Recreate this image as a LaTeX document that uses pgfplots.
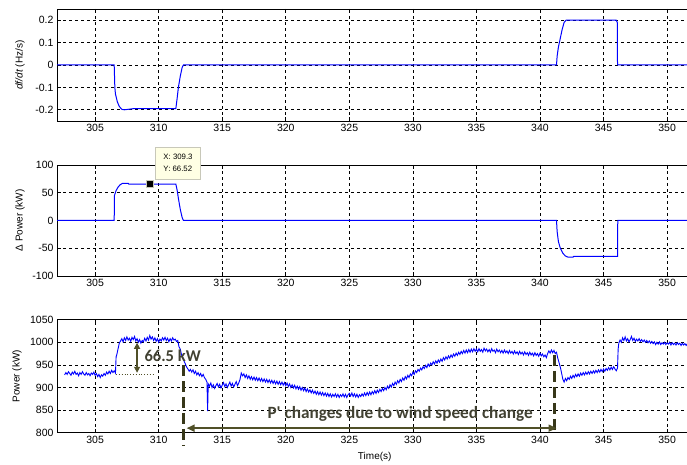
\documentclass[border=0pt]{standalone}
\usepackage{fontspec}
\setmainfont{Liberation Sans}
\newfontfamily\annfont{Carlito}
\usepackage{pgfplots}
\pgfplotsset{compat=1.18}
\usetikzlibrary{arrows.meta}
\definecolor{mblue}{RGB}{0,0,255}
\definecolor{annol}{RGB}{80,80,40}
\definecolor{anndark}{RGB}{55,55,25}
\definecolor{anntext}{RGB}{65,65,50}
\definecolor{tipbg}{RGB}{255,255,228}
\definecolor{tipborder}{RGB}{200,200,185}
\pgfplotsset{
 mstyle/.style={
  scale only axis, width=635.5pt, xmin=302, xmax=352,
  xtick={305,310,...,350},
  grid=major, major grid style={black, dash pattern=on 3pt off 3pt, line width=0.6pt},
  axis line style={line width=0.9pt},
  tick style={black, line width=0.6pt}, tick align=inside, major tick length=4pt,
  ticklabel style={font=\fontsize{10.5}{12}\selectfont},
  /pgf/number format/assume math mode=true,
  /pgf/number format/1000 sep={},
  label style={font=\fontsize{10.5}{12}\selectfont},
  clip=false,
  every axis y label/.style={at={(axis description cs:-0.058,0.5)}, rotate=90, anchor=center},
 }
}
\begin{document}
\begin{tikzpicture}
\useasboundingbox (0,0) rectangle (687pt,465pt);
% top panel
\begin{axis}[mstyle, at={(57pt,344pt)}, anchor=south west, height=112pt,
  ymin=-0.25, ymax=0.25, ytick={-0.2,-0.1,0,0.1,0.2},
  ylabel={\textit{df/dt} (Hz/s)}]
\addplot[mblue, line width=1pt] coordinates {
(302,0) (306.5,0) (306.55,-0.1) (306.6,-0.13) (306.75,-0.165) (306.9,-0.185) (307.1,-0.198) (307.3,-0.2) (308,-0.195) (311.35,-0.195) (311.45,-0.15) (311.55,-0.1) (311.7,-0.05) (311.85,-0.01) (311.95,0) (341.3,0) (341.35,0.04) (341.45,0.08) (341.6,0.12) (341.75,0.16) (341.9,0.19) (342.05,0.2) (346.0,0.2) (346.08,0.19) (346.1,0) (352,0)};
\end{axis}
% middle panel
\begin{axis}[mstyle, at={(57pt,189pt)}, anchor=south west, height=111pt,
  ymin=-100, ymax=100, ytick={-100,-50,...,100},
  ylabel={Δ Power (kW)}]
\addplot[mblue, line width=1pt] coordinates {
(302,0) (306.5,0) (306.52,45) (306.65,54) (306.8,60) (306.95,64) (307.15,67) (307.6,67) (307.65,65.5) (311.35,65.5) (311.45,55) (311.55,40) (311.7,20) (311.85,5) (311.95,0) (341.3,0) (341.35,-20) (341.45,-38) (341.6,-50) (341.8,-59) (342.0,-64) (342.2,-66) (342.6,-66) (342.65,-64.5) (346.1,-64.5) (346.12,0) (352,0)};
\addplot[only marks, mark=square*, mark size=3.5pt, mark options={fill=black, draw=tipborder, line width=0.5pt}] coordinates {(309.3,66.52)};
\node[anchor=south west, draw=tipborder, fill=tipbg, line width=0.8pt, minimum width=45pt, minimum height=32pt, inner sep=2pt, align=left, font=\fontsize{7.8}{12}\selectfont] at (axis cs:309.72,74.2) {X: 309.3\\Y: 66.52};
\end{axis}
% bottom panel
\begin{axis}[mstyle, at={(57pt,32.3pt)}, anchor=south west, height=113pt,
  ymin=800, ymax=1050, ytick={800,850,...,1050},
  ylabel={Power (kW)}, xlabel={Time(s)},
  every axis y label/.style={at={(axis description cs:-0.063,0.5)}, rotate=90, anchor=center},
  every axis x label/.style={at={(axis description cs:0.5,0)}, anchor=center, yshift=-24.5pt}]
\addplot[mblue, line width=0.9pt] coordinates {
(302.6,928) (302.7,933) (302.8,929) (302.9,935) (303.0,931) (303.1,927) (303.2,934) (303.3,930) (303.4,936) (303.5,929)
(303.6,932) (303.7,926) (303.8,933) (303.9,929) (304.0,935) (304.1,930) (304.2,927) (304.3,933) (304.4,928) (304.5,931)
(304.6,926) (304.7,932) (304.8,929) (304.9,934) (305.0,927) (305.1,931) (305.2,924) (305.3,929) (305.4,922) (305.5,928)
(305.6,925) (305.7,931) (305.8,927) (305.9,934) (306.0,930) (306.1,936) (306.2,931) (306.3,938) (306.4,933) (306.5,937)
(306.6,932) (306.65,968) (306.7,972) (306.8,985) (306.9,998) (307.0,1003) (307.1,1008) (307.2,1001) (307.3,1010) (307.4,1004)
(307.5,1012) (307.6,1005) (307.7,1009) (307.8,1002) (307.9,1011) (308.0,1006) (308.1,1013) (308.2,1003) (308.3,1008) (308.4,1000)
(308.5,1006) (308.6,998) (308.7,1004) (308.8,1001) (308.9,1009) (309.0,1003) (309.1,1011) (309.2,1005) (309.3,1015) (309.4,1007)
(309.5,1012) (309.6,1004) (309.7,1010) (309.8,1002) (309.9,1008) (310.0,1000) (310.1,1007) (310.2,1003) (310.3,1010) (310.4,1005)
(310.5,1011) (310.6,1004) (310.7,1009) (310.8,1001) (310.9,1008) (311.0,1003) (311.1,1010) (311.2,1005) (311.3,1007) (311.4,1002)
(311.5,1004) (311.6,990) (311.7,985) (311.8,972) (311.9,966) (312.0,958) (312.1,952) (312.2,945) (312.3,941) (312.4,936)
(312.5,940) (312.6,934) (312.7,939) (312.8,931) (312.9,936) (313.0,928) (313.1,933) (313.2,926) (313.3,931) (313.4,924)
(313.5,929) (313.6,922) (313.7,918) (313.8,912) (313.85,848) (313.9,908) (314.0,903) (314.1,910) (314.2,900) (314.3,906)
(314.4,898) (314.5,904) (314.6,909) (314.7,901) (314.8,907) (314.9,899) (315.0,905) (315.1,911) (315.2,902) (315.3,908)
(315.4,900) (315.5,906) (315.6,912) (315.7,903) (315.8,909) (315.9,901) (316.0,907) (316.1,913) (316.2,904) (316.3,910)
(316.4,918) (316.5,932) (316.6,926) (316.7,930) (316.8,922) (316.9,928) (317.0,920) (317.1,926) (317.2,918) (317.3,924)
(317.4,917) (317.5,923) (317.6,916) (317.7,922) (317.8,915) (317.9,921) (318.0,914) (318.1,920) (318.2,913) (318.3,919)
(318.4,912) (318.5,918) (318.6,911) (318.7,917) (318.8,910) (318.9,916) (319.0,909) (319.1,915) (319.2,908) (319.3,914)
(319.4,907) (319.5,913) (319.6,906) (319.7,912) (319.8,905) (319.9,911) (320.0,904) (320.1,910) (320.2,902) (320.3,908)
(320.4,900) (320.5,906) (320.6,899) (320.7,905) (320.8,897) (320.9,903) (321.0,896) (321.1,902) (321.2,894) (321.3,900)
(321.4,893) (321.5,899) (321.6,891) (321.7,897) (321.8,890) (321.9,895) (322.0,888) (322.1,894) (322.2,887) (322.3,892)
(322.4,885) (322.5,891) (322.6,884) (322.7,890) (322.8,883) (322.9,889) (323.0,882) (323.1,888) (323.2,881) (323.3,887)
(323.4,880) (323.5,886) (323.6,879) (323.7,885) (323.8,880) (323.9,886) (324.0,879) (324.1,885) (324.2,878) (324.3,884)
(324.4,880) (324.5,886) (324.6,879) (324.7,885) (324.8,878) (324.9,884) (325.0,887) (325.1,881) (325.2,888) (325.3,880)
(325.4,886) (325.5,879) (325.6,885) (325.7,878) (325.8,884) (325.9,880) (326.0,886) (326.1,881) (326.2,888) (326.3,882)
(326.4,889) (326.5,883) (326.6,890) (326.7,884) (326.8,891) (326.9,886) (327.0,893) (327.1,887) (327.2,894) (327.3,889)
(327.4,896) (327.5,891) (327.6,898) (327.7,893) (327.8,900) (327.9,895) (328.0,903) (328.1,898) (328.2,906) (328.3,901)
(328.4,909) (328.5,904) (328.6,912) (328.7,907) (328.8,915) (328.9,910) (329.0,918) (329.1,913) (329.2,921) (329.3,916)
(329.4,924) (329.5,919) (329.6,927) (329.7,922) (329.8,930) (329.9,926) (330.0,934) (330.1,929) (330.2,937) (330.3,933)
(330.4,940) (330.5,936) (330.6,943) (330.7,939) (330.8,946) (330.9,942) (331.0,949) (331.1,944) (331.2,952) (331.3,947)
(331.4,954) (331.5,950) (331.6,957) (331.7,952) (331.8,959) (331.9,954) (332.0,961) (332.1,956) (332.2,963) (332.3,958)
(332.4,966) (332.5,961) (332.6,968) (332.7,963) (332.8,970) (332.9,965) (333.0,972) (333.1,967) (333.2,974) (333.3,969)
(333.4,976) (333.5,971) (333.6,978) (333.7,973) (333.8,980) (333.9,975) (334.0,982) (334.1,976) (334.2,983) (334.3,977)
(334.4,984) (334.5,978) (334.6,985) (334.7,979) (334.8,986) (334.9,980) (335.0,985) (335.1,979) (335.2,986) (335.3,980)
(335.4,984) (335.5,978) (335.6,987) (335.7,981) (335.8,985) (335.9,979) (336.0,984) (336.1,978) (336.2,986) (336.3,980)
(336.4,983) (336.5,977) (336.6,985) (336.7,979) (336.8,983) (336.9,977) (337.0,982) (337.1,976) (337.2,983) (337.3,977)
(337.4,981) (337.5,975) (337.6,982) (337.7,976) (337.8,980) (337.9,974) (338.0,981) (338.1,975) (338.2,979) (338.3,973)
(338.4,980) (338.5,974) (338.6,978) (338.7,972) (338.8,979) (338.9,973) (339.0,977) (339.1,971) (339.2,978) (339.3,972)
(339.4,976) (339.5,970) (339.6,977) (339.7,971) (339.8,975) (339.9,969) (340.0,976) (340.1,970) (340.2,974) (340.3,968)
(340.4,972) (340.5,966) (340.6,975) (340.7,981) (340.8,976) (340.9,983) (341.0,977) (341.1,982) (341.2,975) (341.3,978)
(341.4,965) (341.5,955) (341.6,945) (341.7,932) (341.8,918) (341.9,912) (342.0,920) (342.1,915) (342.2,922) (342.3,918)
(342.4,925) (342.5,920) (342.6,927) (342.7,922) (342.8,929) (342.9,924) (343.0,930) (343.1,925) (343.2,932) (343.3,927)
(343.4,933) (343.5,928) (343.6,934) (343.7,929) (343.8,935) (343.9,930) (344.0,936) (344.1,931) (344.2,937) (344.3,932)
(344.4,938) (344.5,933) (344.6,939) (344.7,934) (344.8,940) (344.9,935) (345.0,941) (345.1,936) (345.2,942) (345.3,938)
(345.4,944) (345.5,939) (345.6,945) (345.7,940) (345.8,946) (345.9,941) (346.0,937) (346.1,943) (346.15,985) (346.2,998)
(346.3,1005) (346.4,1000) (346.5,1010) (346.6,1004) (346.7,1012) (346.8,1003) (346.9,1008) (347.0,1001) (347.1,1006) (347.2,1013)
(347.3,1004) (347.4,1009) (347.5,1002) (347.6,1007) (347.7,1003) (347.8,1008) (347.9,1002) (348.0,1006) (348.1,1001) (348.2,1005)
(348.3,1000) (348.4,1004) (348.5,999) (348.6,1003) (348.7,998) (348.8,1002) (348.9,997) (349.0,1001) (349.1,995) (349.2,1000)
(349.3,996) (349.4,1001) (349.5,995) (349.6,999) (349.7,996) (349.8,1000) (349.9,995) (350.0,999) (350.1,996) (350.2,1000)
(350.3,994) (350.4,999) (350.5,995) (350.6,998) (350.7,994) (350.8,999) (350.9,995) (351.0,998) (351.1,993) (351.2,998)
(351.3,994) (351.4,997) (351.5,993) (351.6,997) (351.7,994) (351.8,996)};
% annotations
\draw[annol, dotted, line width=0.8pt] (axis cs:306.65,930) -- (axis cs:309.7,930);
\draw[annol, line width=1.2pt, {Triangle[length=6pt,width=6pt]}-{Triangle[length=6pt,width=6pt]}] (axis cs:308.3,999) -- (axis cs:308.3,932.6);
\node[anntext, font=\annfont\bfseries\fontsize{16.5}{18}\selectfont] at (axis cs:311.1,970) {66.5 kW};
\draw[anndark, line width=2.5pt, dash pattern=on 11pt off 5pt] (axis cs:311.95,949.8) -- (axis cs:311.95,772);
\draw[anndark, line width=2.5pt, dash pattern=on 11pt off 5pt] (axis cs:341.15,972) -- (axis cs:341.15,800);
\draw[annol, line width=1.8pt, {Triangle[length=8pt,width=7pt]}-{Triangle[length=8pt,width=7pt]}] (axis cs:312.2,810) -- (axis cs:341.3,810);
\node[anntext, font=\annfont\bfseries\fontsize{17.2}{19}\selectfont] at (axis cs:329.0,841) {P' changes due to wind speed change};
\end{axis}
\end{tikzpicture}
\end{document}
